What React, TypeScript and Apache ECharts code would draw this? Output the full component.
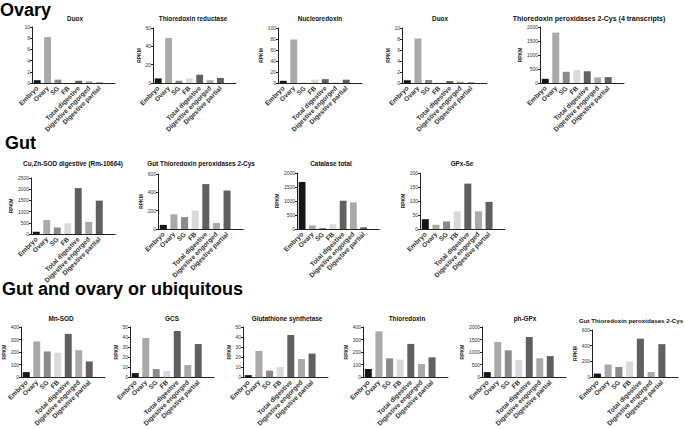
import React, { useEffect, useRef } from "react";
import * as echarts from "echarts";

const categories = ["Embryo", "Ovary", "SG", "FB", "Total digestive", "Digestive engorged", "Digestive partial", ""];
const barColors = ["#161616", "#a9a9a9", "#8a8a8a", "#dadada", "#606060", "#a9a9a9", "#606060"];

const duoxA = [0.5, 8.2, 0.6, 0, 0.4, 0.3, 0.1];
const thioredoxinReductase = [5, 49, 2.5, 5, 9, 3, 5.5];
const nucleoredoxin = [4, 79, 0.3, 6, 7, 0.5, 6];
const duoxB = [0.5, 8.1, 0.55, 0.05, 0.35, 0.25, 0.1];
const tpx4 = [150, 1800, 400, 460, 420, 200, 210];
const cuZnSod = [100, 620, 290, 480, 2050, 540, 1490];
const gutTpx = [45, 160, 130, 200, 490, 65, 420];
const catalase = [1680, 130, 40, 170, 1010, 950, 60];
const gpxSe = [35, 15, 27, 63, 162, 63, 97];
const mnSod = [40, 285, 205, 195, 345, 215, 125];
const gcs = [4, 39, 8, 6, 46, 12, 33];
const glutathioneSynthetase = [2, 26, 6.5, 10, 42, 18, 23.5];
const thioredoxin = [65, 365, 150, 140, 265, 105, 158];
const phGpx = [200, 1400, 1070, 690, 1600, 750, 840];
const gutTpx2 = [45, 160, 130, 200, 490, 65, 420];

const titles = [
  "Duox", "Thioredoxin reductase", "Nucleoredoxin", "Duox", "Thioredoxin peroxidases 2-Cys (4 transcripts)",
  "Cu,Zn-SOD digestive (Rm-10664)", "Gut Thioredoxin peroxidases 2-Cys", "Catalase total", "GPx-Se",
  "Mn-SOD", "GCS", "Glutathione synthetase", "Thioredoxin", "ph-GPx", "Gut Thioredoxin peroxidases 2-Cys",
];
const seriesValues = [duoxA, thioredoxinReductase, nucleoredoxin, duoxB, tpx4, cuZnSod, gutTpx, catalase, gpxSe, mnSod, gcs, glutathioneSynthetase, thioredoxin, phGpx, gutTpx2];
const yMax = [10, 60, 100, 10, 2000, 2500, 600, 2000, 200, 400, 50, 50, 400, 2000, 600];
const yStep = [2, 20, 20, 2, 500, 500, 200, 500, 50, 100, 10, 10, 100, 500, 200];
const sectionHeadings = ["Ovary", "Gut", "Gut and ovary or ubiquitous"];

// layout: [left, top, width, height, titleX, titleY, titleSize]
const layout = [
  [32, 27, 83, 56, 75, 18, 6.4],
  [153, 28, 83, 55, 193, 18, 6.4],
  [278, 28, 84, 55, 320, 18, 6.4],
  [402, 28, 85, 55, 440, 18, 6.4],
  [540, 27, 84, 56, 589, 18, 7],
  [31, 178, 84, 56, 73, 163, 6.4],
  [158, 174, 85, 55, 201, 163, 6.4],
  [297, 173, 82, 56, 331, 163, 6.4],
  [420, 173, 85, 56, 462, 163, 6.4],
  [20, 327, 85, 56, 61, 318, 6.4],
  [130, 327, 84, 56, 172, 318, 6.4],
  [243, 327, 85, 56, 287, 318, 6.4],
  [363, 327, 85, 56, 407, 318, 6.4],
  [482, 327, 84, 56, 525, 318, 6.4],
  [592, 330, 86, 55, 631, 320, 6.2],
];
const headingPos = [[0, 1], [5, 134], [2, 280]];

const FONT = "Liberation Sans, Arial, sans-serif";
const AXIS = "#222";

export default function App() {
  const ref = useRef<HTMLDivElement>(null);
  useEffect(() => {
    if (!ref.current) return;
    const chart = echarts.init(ref.current, null, { renderer: "svg" });
    const grid: any[] = [];
    const xAxis: any[] = [];
    const yAxis: any[] = [];
    const series: any[] = [];
    const graphic: any[] = [];
    layout.forEach((l, i) => {
      grid.push({ left: l[0], top: l[1], width: l[2], height: l[3] });
      xAxis.push({
        type: "category", gridIndex: i, data: categories,
        axisLine: { lineStyle: { color: AXIS, width: 1 } },
        axisTick: { alignWithLabel: true, length: 2, lineStyle: { color: AXIS } },
        axisLabel: { rotate: 45, interval: 0, fontSize: 6.6, fontWeight: "bold", color: "#333", margin: 4, fontFamily: FONT, hideOverlap: false },
      });
      const digits = String(yMax[i]).length;
      yAxis.push({
        type: "value", gridIndex: i, min: 0, max: yMax[i], interval: yStep[i],
        name: i === 0 ? "" : "RPKM", nameLocation: "middle", nameRotate: 90, nameGap: 6 + 3 * digits,
        nameTextStyle: { fontSize: 5, fontWeight: "bold", color: "#222", fontFamily: FONT },
        axisLine: { show: true, lineStyle: { color: AXIS, width: 1 } },
        axisTick: { show: true, length: 2, lineStyle: { color: AXIS } },
        axisLabel: { fontSize: 5, color: "#333", margin: 2, fontFamily: FONT, formatter: (v: number) => String(v) },
        splitLine: { show: false },
      });
      series.push({
        type: "bar", xAxisIndex: i, yAxisIndex: i, barWidth: "66%",
        data: seriesValues[i].map((v, k) => ({ value: v, itemStyle: { color: barColors[k] } })),
      });
      graphic.push({
        type: "text", x: l[4], y: l[5],
        style: { text: titles[i], fontSize: l[6], fontWeight: "bold", fill: "#111", textAlign: "center", textVerticalAlign: "middle", fontFamily: FONT },
      });
    });
    sectionHeadings.forEach((h, i) => {
      graphic.push({
        type: "text", x: headingPos[i][0], y: headingPos[i][1],
        style: { text: h, fontSize: 18, fontWeight: "bold", fill: "#000", textAlign: "left", textVerticalAlign: "top", fontFamily: FONT },
      });
    });
    chart.setOption({ animation: false, grid, xAxis, yAxis, series, graphic });
    return () => chart.dispose();
  }, []);
  return <div ref={ref} style={{ position: "absolute", left: 0, top: 0, width: 685, height: 429, background: "#fff" }} />;
}
